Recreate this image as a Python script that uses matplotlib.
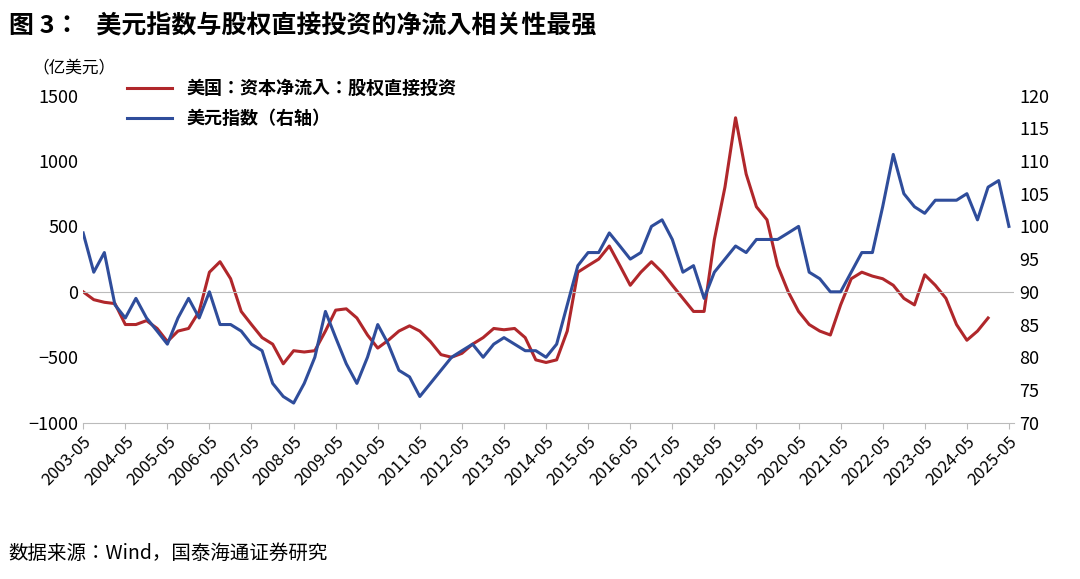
import numpy as np
import pandas as pd
import matplotlib
matplotlib.use("Agg")
import matplotlib.pyplot as plt
from matplotlib import font_manager

cjk = sorted({f.name for f in font_manager.fontManager.ttflist if "CJK" in f.name})
plt.rcParams["font.sans-serif"] = cjk + ["DejaVu Sans"]
plt.rcParams["font.family"] = "sans-serif"

# Quarterly samples, starting 2003-05
red_vals = [0, -60, -80, -90, -250, -250, -220, -280, -380, -300, -280, -150,
            150, 230, 100, -150, -250, -350, -400, -550, -450, -460, -450, -300,
            -140, -130, -200, -330, -430, -370, -300, -260, -300, -380, -480, -500,
            -470, -400, -350, -280, -290, -280, -350, -520, -540, -520, -300, 150,
            200, 250, 350, 200, 50, 150, 230, 150, 50, -50, -150, -150,
            400, 800, 1330, 900, 650, 550, 200, 0, -150, -250, -300, -330,
            -100, 100, 150, 120, 100, 50, -50, -100, 130, 50, -50, -250,
            -370, -300, -200]
blue_vals = [99, 93, 96, 88, 86, 89, 86, 84, 82, 86, 89, 86,
             90, 85, 85, 84, 82, 81, 76, 74, 73, 76, 80, 87,
             83, 79, 76, 80, 85, 82, 78, 77, 74, 76, 78, 80,
             81, 82, 80, 82, 83, 82, 81, 81, 80, 82, 88, 94,
             96, 96, 99, 97, 95, 96, 100, 101, 98, 93, 94, 89,
             93, 95, 97, 96, 98, 98, 98, 99, 100, 93, 92, 90,
             90, 93, 96, 96, 103, 111, 105, 103, 102, 104, 104, 104,
             105, 101, 106, 107, 100]
red_dates = pd.date_range("2003-05-01", periods=len(red_vals), freq="3MS")
blue_dates = pd.date_range("2003-05-01", periods=len(blue_vals), freq="3MS")
tick_labels = [f"{y}-05" for y in range(2003, 2026)]
tick_dates = pd.to_datetime([f"{y}-05-01" for y in range(2003, 2026)])

RED = "#B0272B"
BLUE = "#2F4D9B"

fig = plt.figure(figsize=(10.8, 5.79), dpi=100)
ax = fig.add_axes([0.077, 0.27, 0.862, 0.565])
ax2 = ax.twinx()

ax.plot(red_dates, red_vals, color=RED, lw=2.2, label="美国：资本净流入：股权直接投资")
ax2.plot(blue_dates, blue_vals, color=BLUE, lw=2.2, label="美元指数（右轴）")

ax.set_ylim(-1000, 1500)
ax.set_yticks(range(-1000, 1501, 500))
ax2.set_ylim(70, 120)
ax2.set_yticks(range(70, 121, 5))
ax.set_xlim(pd.Timestamp("2003-05-01"), pd.Timestamp("2025-06-15"))
ax.set_xticks(tick_dates)
ax.set_xticklabels(tick_labels, rotation=45, ha="right", rotation_mode="anchor")
for a in (ax, ax2):
    for s in a.spines.values():
        s.set_visible(False)
    a.tick_params(length=0, labelsize=13)
ax.spines["bottom"].set_visible(True)
ax.spines["bottom"].set_color("#BBBBBB")
ax.axhline(0, color="#BBBBBB", lw=0.8)
ax.tick_params(axis="x", length=4, color="#BBBBBB", labelsize=12)

h1, l1 = ax.get_legend_handles_labels()
h2, l2 = ax2.get_legend_handles_labels()
ax.legend(h1 + h2, l1 + l2, loc="upper left", bbox_to_anchor=(0.03, 1.1),
          frameon=False, prop={"weight": "bold", "size": 13}, handlelength=2.5,
          labelspacing=0.6)

fig.text(0.03, 0.875, "（亿美元）", fontsize=12)
fig.text(0.008, 0.955, "图 3：   美元指数与股权直接投资的净流入相关性最强",
         fontsize=18, fontweight="bold", va="center")
fig.text(0.008, 0.045, "数据来源：Wind，国泰海通证券研究", fontsize=14, va="center")

fig.savefig("out.png", dpi=100)
